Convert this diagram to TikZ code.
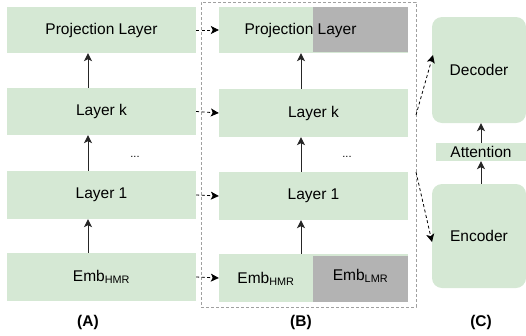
\documentclass[tikz,border=0pt]{standalone}
\usepackage{fontspec}
\setmainfont{Liberation Sans}
\usetikzlibrary{arrows.meta, positioning}

\begin{document}
\begin{tikzpicture}[x=1pt, y=-1pt,
    font=\fontsize{15.5}{18}\selectfont,
    layer/.style={fill=laygreen, draw=none, minimum width=189pt, inner sep=0pt},
    block/.style={fill=laygreen, draw=none, rounded corners=10pt, minimum width=94pt, inner sep=0pt},
    arr/.style={-{Stealth[length=8pt, width=8pt, inset=2pt]}, line width=1pt, draw=black!85},
    darr/.style={-{Stealth[length=8pt, width=8pt, inset=2pt]}, line width=0.8pt, dash pattern=on 3pt off 2.5pt},
    tag/.style={font=\fontsize{15.5}{18}\selectfont\bfseries}]
    % Define colors
    \definecolor{laygreen}{HTML}{D5E8D4}   % light green boxes
    \definecolor{lmrgray}{HTML}{B3B3B3}    % grey (LMR) part
    \definecolor{framegray}{HTML}{A0A0A0}  % dashed frame

    \useasboundingbox (0,0) rectangle (526,335);

    % Column (A)
    \node[layer, minimum height=46pt] (pA)  at (101.5,30)  {Projection Layer};
    \node[layer, minimum height=47pt] (lkA) at (101.5,111.5) {Layer k};
    \node[layer, minimum height=48pt] (l1A) at (101.5,195) {Layer 1};
    \node[layer, minimum height=48pt] (eA)  at (101.5,277) {Emb\textsubscript{HMR}};
    \node[font=\fontsize{11}{12}\selectfont] (dotsA) at (135,157) {...};

    \draw[arr] ([xshift=-13.5pt]eA.north)  -- ([xshift=-13.5pt]l1A.south);
    \draw[arr] ([xshift=-13.5pt]l1A.north) -- ([xshift=-13.5pt]lkA.south);
    \draw[arr] ([xshift=-13.5pt]lkA.north) -- ([xshift=-13.5pt]pA.south);

    % Column (B)
    \node[draw=framegray, dash pattern=on 3pt off 2pt, line width=0.6pt,
          minimum width=215pt, minimum height=305pt] (frame) at (308.5,154.5) {};
    \node[layer, minimum height=46pt] (pB)  at (313.5,30)  {};
    \fill[lmrgray] (313,7) rectangle (408,52);
    \node (pBtext) at (300.5,30) {Projection Layer};
    \node[layer, minimum height=48pt] (lkB) at (313.5,113) {Layer k};
    \node[layer, minimum height=48pt] (l1B) at (313.5,196) {Layer 1};
    \node[layer, minimum height=48pt] (eB)  at (313.5,278) {};
    \fill[lmrgray] (313,256) rectangle (408,302);
    \node (eBhmr) at (266,279) {Emb\textsubscript{HMR}};
    \node (eBlmr) at (360.5,276) {Emb\textsubscript{LMR}};
    \node[font=\fontsize{11}{12}\selectfont] (dotsB) at (347,157) {...};

    \draw[arr] ([xshift=-12.5pt]eB.north)  -- ([xshift=-12.5pt]l1B.south);
    \draw[arr] ([xshift=-12.5pt]l1B.north) -- ([xshift=-12.5pt]lkB.south);
    \draw[arr] ([xshift=-12.5pt]lkB.north) -- ([xshift=-12.5pt]pB.south);

    % A -> B
    \draw[darr] (pA.east)  -- (pB.west);
    \draw[darr] (lkA.east) -- (lkB.west);
    \draw[darr] (l1A.east) -- (l1B.west);
    \draw[darr] (eA.east)  -- (eB.west);

    % Column (C)
    \node[block, minimum height=106pt] (dec) at (479,70)  {Decoder};
    \node[fill=laygreen, inner sep=0pt, minimum width=90pt, minimum height=18pt] (att) at (481,152) {Attention};
    \node[block, minimum height=104pt] (enc) at (479,236) {Encoder};

    \draw[arr] (enc.north -| att) -- (att.south);
    \draw[arr] (att.north) -- (dec.south -| att);

    % B -> C
    \coordinate (outk) at (416,115);
    \coordinate (out1) at (416,172);
    \coordinate (indec) at (433,55);
    \coordinate (inenc) at (432,242);
    \draw[darr] (outk) -- (indec);
    \draw[darr] (out1) -- (inenc);

    % Labels
    \node[tag] (tagA) at (88,322)  {(A)};
    \node[tag] (tagB) at (301,322) {(B)};
    \node[tag] (tagC) at (481,322) {(C)};
\end{tikzpicture}
\end{document}
